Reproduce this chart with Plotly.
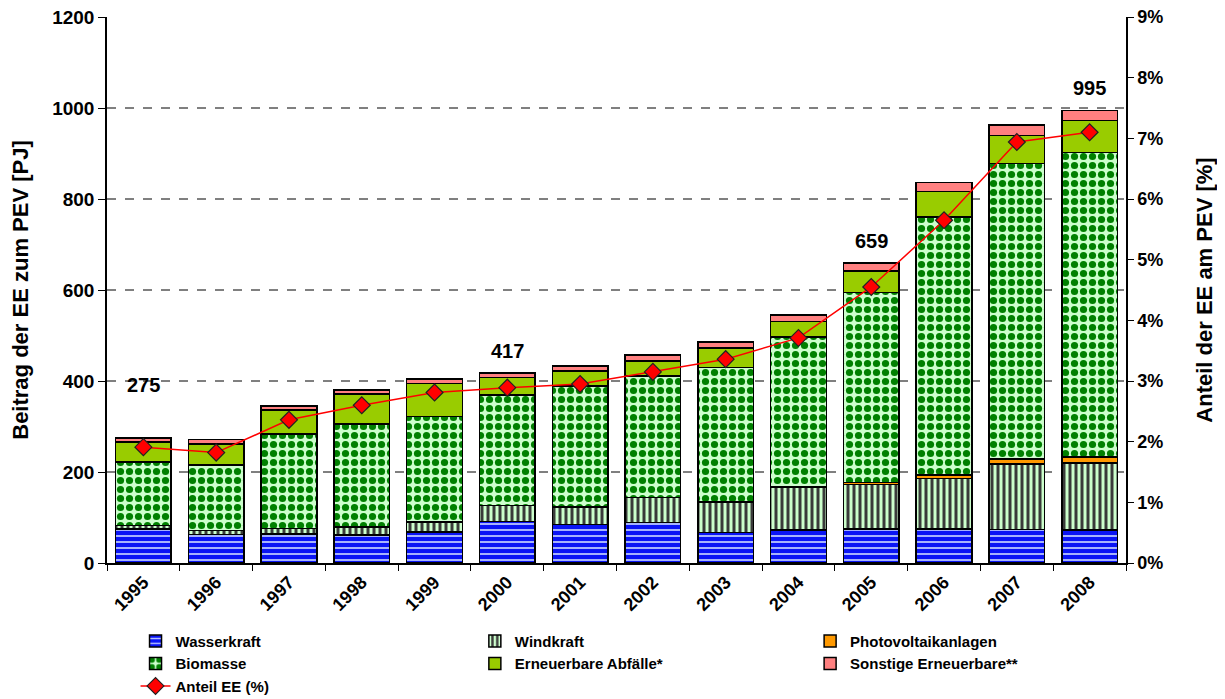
import plotly.graph_objects as go

# ---------------- data ----------------
years = [1995, 1996, 1997, 1998, 1999, 2000, 2001,
         2002, 2003, 2004, 2005, 2006, 2007, 2008]
year_labels = ["1995", "1996", "1997", "1998", "1999", "2000", "2001",
               "2002", "2003", "2004", "2005", "2006", "2007", "2008"]

wasserkraft = [75, 63, 64, 62, 68, 91, 85, 89, 67, 73, 75, 75, 74, 73]
windkraft = [7, 8, 12, 17, 22, 35, 38, 55, 67, 93, 98, 111, 144, 147]
photovoltaik = [0, 0, 0, 0, 0, 0.2, 0.3, 0.5, 1, 2, 4, 7, 11, 13]
biomasse = [140, 144, 207, 226, 232, 243, 266, 266, 295, 329, 417, 567, 649, 669]
abfaelle = [44, 47, 53, 66, 72, 39, 33, 34, 42, 34, 48, 56, 62, 71]
sonstige = [9, 9, 9, 9, 10, 9, 11, 13, 14, 14, 17, 20, 23, 22]

anteil_ee = [1.91, 1.82, 2.36, 2.60, 2.81, 2.89, 2.95, 3.15, 3.36, 3.71,
             4.55, 5.65, 6.94, 7.10]

label_years = [1995, 2000, 2005, 2008]
label_values = [275, 417, 659, 995]

left_ticks = [0, 200, 400, 600, 800, 1000, 1200]
right_ticks = [0, 1, 2, 3, 4, 5, 6, 7, 8, 9]
right_tick_text = ["0%", "1%", "2%", "3%", "4%", "5%", "6%", "7%", "8%", "9%"]

# ---------------- styling ----------------
FONT = "Liberation Sans"


def f(size):
    return dict(family=FONT, size=size, color="black", weight="bold")


def bar(name, vals, color, legend, shape="", fg=None, bg=None, size=8, sol=0.5):
    marker = dict(color=color, line=dict(color="black", width=1.5))
    if shape:
        marker["pattern"] = dict(shape=shape, fgcolor=fg, bgcolor=bg,
                                 size=size, solidity=sol, fillmode="replace")
    return go.Bar(x=years, y=vals, name=name, legend=legend, marker=marker,
                  width=0.764)


fig = go.Figure()
fig.add_trace(bar("Wasserkraft", wasserkraft, "#0000FF", "legend",
                  "-", "#b8c4ff", "#0a14f5", 6, 0.3))
fig.add_trace(bar("Windkraft", windkraft, "#CCFFCC", "legend2",
                  "|", "#3a3a3a", "#ccffcc", 6, 0.5))
fig.add_trace(bar("Photovoltaikanlagen", photovoltaik, "#FF9900", "legend3"))
fig.add_trace(bar("Biomasse", biomasse, "#008000", "legend",
                  ".", "#008000", "#ccffcc", 9, 0.5))
fig.add_trace(bar("Erneuerbare Abfälle*", abfaelle, "#99CC00", "legend2"))
fig.add_trace(bar("Sonstige Erneuerbare**", sonstige, "#FF8080", "legend3"))

fig.add_trace(go.Scatter(
    x=years, y=anteil_ee, name="Anteil EE (%)", yaxis="y2", legend="legend",
    mode="lines+markers",
    line=dict(color="#FF0000", width=1.5),
    marker=dict(symbol="diamond", size=13, color="#FF0000",
                line=dict(color="#222222", width=1.2)),
))

# dashed gridlines (behind bars)
for v in left_ticks[1:-1]:
    fig.add_shape(type="line", xref="paper", x0=0, x1=1, yref="y",
                  y0=v, y1=v, layer="below",
                  line=dict(color="black", width=1, dash="dash"))

label_shift = {1995: 40}
for yr, v in zip(label_years, label_values):
    fig.add_annotation(x=yr, y=v, xref="x", yref="y", text=str(v),
                       showarrow=False, yanchor="bottom",
                       yshift=label_shift.get(yr, 9), font=f(20))

legend_common = dict(orientation="v", yanchor="top", xanchor="left",
                     font=f(15), bgcolor="rgba(0,0,0,0)", borderwidth=0,
                     traceorder="normal")

# the page body adds an 8 px offset, so the figure is 8 px smaller
fig.update_layout(
    width=1217, height=691,
    paper_bgcolor="white", plot_bgcolor="white",
    margin=dict(l=99, r=99, t=9, b=136, autoexpand=False),
    barmode="stack",
    font=dict(family=FONT, color="black"),
    xaxis=dict(type="linear", range=[1994.5, 2008.5],
               tickmode="array", tickvals=years, ticktext=year_labels,
               showline=True, linecolor="black", linewidth=1.5,
               ticks="", tickangle=-45, tickfont=f(18),
               minor=dict(tickmode="linear", tick0=1994.5, dtick=1,
                          ticks="outside", ticklen=6, tickcolor="black",
                          showgrid=False),
               showgrid=False, zeroline=False),
    yaxis=dict(range=[0, 1200], tickmode="array", tickvals=left_ticks,
               ticktext=[str(v) for v in left_ticks], showline=True,
               linecolor="black", linewidth=1.5, ticks="outside", ticklen=7,
               tickcolor="black", tickfont=f(19), showgrid=False,
               zeroline=False, ticklabeloverflow="allow",
               title=dict(text="Beitrag der EE zum PEV [PJ]", font=f(22),
                          standoff=22)),
    yaxis2=dict(range=[0, 9], tickmode="array", tickvals=right_ticks,
                ticktext=right_tick_text,
                overlaying="y", side="right", showline=True,
                linecolor="black", linewidth=1.5, ticks="outside", ticklen=6,
                tickcolor="black", tickfont=f(18), showgrid=False,
                zeroline=False, ticklabeloverflow="allow",
                title=dict(text="Anteil der EE am PEV [%]", font=f(22),
                           standoff=34)),
    legend=dict(x=0.028, y=-0.113, **legend_common),
    legend2=dict(x=0.361, y=-0.113, **legend_common),
    legend3=dict(x=0.690, y=-0.113, **legend_common),
    showlegend=True,
)

fig.write_html("out.html")
